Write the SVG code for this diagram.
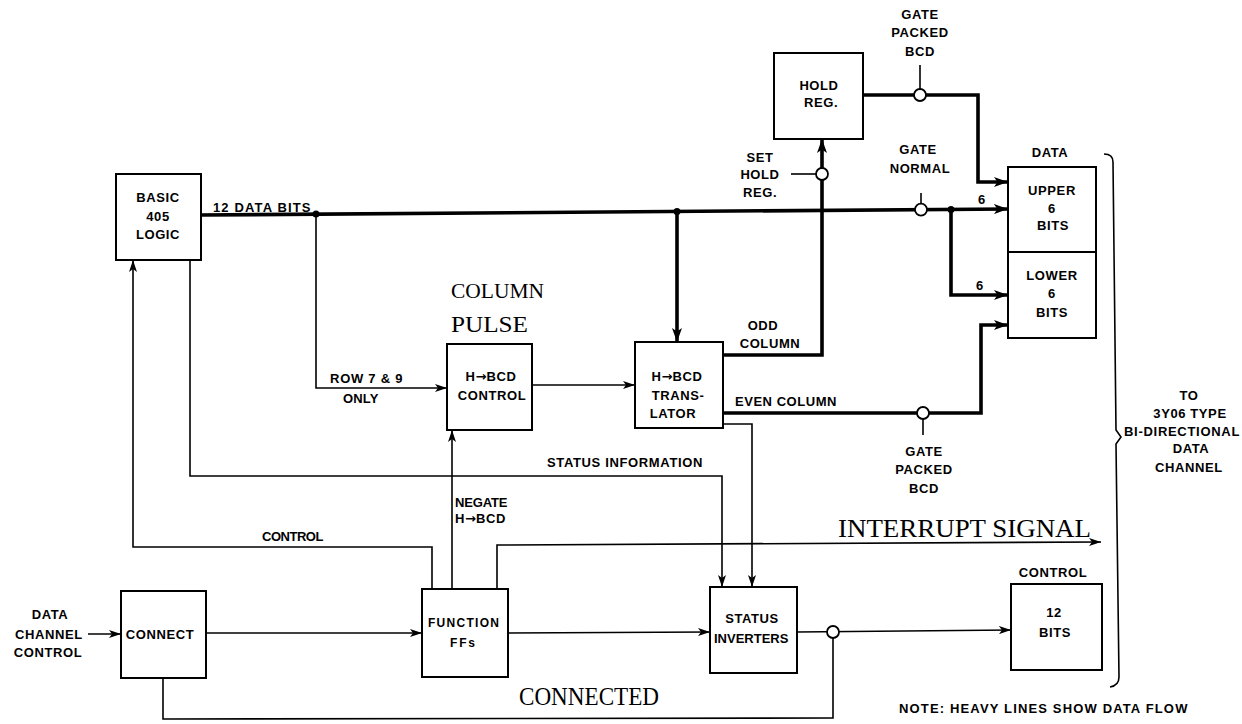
<svg xmlns="http://www.w3.org/2000/svg" width="1242" height="724" viewBox="0 0 1242 724">
<style>
.box{fill:#fff;stroke:#000;stroke-width:2}
.thin{fill:none;stroke:#000;stroke-width:1.6}
.heavy{fill:none;stroke:#000;stroke-width:3.6}
.gate{fill:#fff;stroke:#000;stroke-width:1.8}
.dot{fill:#000}
.l{font-family:"Liberation Sans",Arial,sans-serif;font-weight:bold;font-size:13px;fill:#000;letter-spacing:0.6px}
.c{text-anchor:middle}
.s{font-family:"Liberation Serif","Times New Roman",serif;font-weight:normal;fill:#000}
.f{font-family:"Liberation Sans",Arial,sans-serif;font-weight:bold;font-size:12px;fill:#000}
.ar{font-family:"DejaVu Sans",sans-serif;font-weight:bold;letter-spacing:0}
</style>
<defs>
<marker id="a" viewBox="0 0 12 8" refX="12" refY="4" markerWidth="12" markerHeight="8" markerUnits="userSpaceOnUse" orient="auto"><path d="M0,0 L12,4 L0,8 L3,4 z" fill="#000"/></marker>
<marker id="ah" viewBox="0 0 14 10" refX="14" refY="5" markerWidth="14" markerHeight="10" markerUnits="userSpaceOnUse" orient="auto"><path d="M0,0 L14,5 L0,10 L3.5,5 z" fill="#000"/></marker>
</defs>
<rect width="1242" height="724" fill="#fff"/>

<g id="connectors">
  <line class="heavy" x1="201" y1="215" x2="1008" y2="209" marker-end="url(#ah)"/>
  <polyline class="heavy" points="677,211.5 677,342" marker-end="url(#ah)"/>
  <polyline class="heavy" points="723,355 822,355 822,139" marker-end="url(#ah)"/>
  <polyline class="heavy" points="863,95 978,95 978,182 1008,182" marker-end="url(#ah)"/>
  <polyline class="heavy" points="951,209.4 951,295 1008,295" marker-end="url(#ah)"/>
  <polyline class="heavy" points="723,413 981,413 981,325 1008,325" marker-end="url(#ah)"/>
  <polyline class="thin" points="316,214 316,388 447,388" marker-end="url(#a)"/>
  <polyline class="thin" points="532,385 635,385" marker-end="url(#a)"/>
  <polyline class="thin" points="432,589 432,547 133,547 133,260" marker-end="url(#a)"/>
  <polyline class="thin" points="190,260 190,476 722,476 722,587" marker-end="url(#a)"/>
  <polyline class="thin" points="723,424 752,424 752,587" marker-end="url(#a)"/>
  <polyline class="thin" points="452,589 452,430" marker-end="url(#a)"/>
  <polyline class="thin" points="497,589 497,545 1101,542" marker-end="url(#a)"/>
  <polyline class="thin" points="88,634 121,634" marker-end="url(#a)"/>
  <polyline class="thin" points="206,633 422,633" marker-end="url(#a)"/>
  <polyline class="thin" points="508,633 710,632" marker-end="url(#a)"/>
  <polyline class="thin" points="797,632 1011,630" marker-end="url(#a)"/>
  <polyline class="thin" points="163,678 163,719 833,718 833,638"/>
  <line class="thin" x1="920" y1="65" x2="920" y2="89"/>
  <line class="thin" x1="921" y1="193" x2="921" y2="203.6"/>
  <line class="thin" x1="791" y1="174" x2="816" y2="174"/>
  <line class="thin" x1="923" y1="419" x2="923" y2="435"/>
  <circle class="gate" cx="920" cy="95" r="6"/>
  <circle class="gate" cx="822" cy="174" r="6"/>
  <circle class="gate" cx="921" cy="209.6" r="6"/>
  <circle class="gate" cx="923" cy="413" r="6"/>
  <circle class="gate" cx="833" cy="632" r="6"/>
  <circle class="dot" cx="316" cy="214" r="3.5"/>
  <circle class="dot" cx="677" cy="211.5" r="3.5"/>
  <circle class="dot" cx="951" cy="209.4" r="3.5"/>
  <path class="thin" d="M1104,154 C1110,154 1113,156 1113,162 L1116,430 L1121,437 L1116,444 L1119,677 C1119,683 1116,686 1110,687"/>
</g>

<g id="labels">
  <text class="l" x="213" y="212" textLength="98">12 DATA BITS</text>
  <text class="l" x="330" y="383" textLength="73">ROW 7 &amp; 9</text>
  <text class="l" x="343" y="403" textLength="36">ONLY</text>
  <text class="s" x="451" y="298" font-size="22" textLength="93" lengthAdjust="spacingAndGlyphs">COLUMN</text>
  <text class="s" x="451" y="332" font-size="23" textLength="77" lengthAdjust="spacingAndGlyphs">PULSE</text>
  <text class="l c" x="763" y="330">ODD</text>
  <text class="l c" x="770" y="348">COLUMN</text>
  <text class="l" x="735" y="406" textLength="102">EVEN COLUMN</text>
  <text class="l c" x="920" y="19">GATE</text>
  <text class="l c" x="920" y="37">PACKED</text>
  <text class="l c" x="920" y="56">BCD</text>
  <text class="l c" x="760" y="162">SET</text>
  <text class="l c" x="760" y="179">HOLD</text>
  <text class="l c" x="760" y="197">REG.</text>
  <text class="l c" x="918" y="154">GATE</text>
  <text class="l c" x="920" y="173">NORMAL</text>
  <text class="l c" x="1050" y="157">DATA</text>
  <text class="l c" x="982" y="204">6</text>
  <text class="l c" x="980" y="290">6</text>
  <text class="l c" x="924" y="456">GATE</text>
  <text class="l c" x="924" y="474">PACKED</text>
  <text class="l c" x="924" y="493">BCD</text>
  <text class="l" x="547" y="467" textLength="156">STATUS INFORMATION</text>
  <text class="l" x="455" y="507" textLength="53">NEGATE</text>
  <text class="l" x="455" y="523">H<tspan class="ar">→</tspan>BCD</text>
  <text class="l" x="262" y="541" textLength="62">CONTROL</text>
  <text class="s" x="838" y="537" font-size="25" textLength="253" lengthAdjust="spacingAndGlyphs">INTERRUPT SIGNAL</text>
  <text class="l c" x="50" y="619">DATA</text>
  <text class="l c" x="49" y="639">CHANNEL</text>
  <text class="l c" x="48" y="657">CONTROL</text>
  <text class="l c" x="1053" y="577">CONTROL</text>
  <text class="s" x="519" y="705" font-size="26" textLength="140" lengthAdjust="spacingAndGlyphs">CONNECTED</text>
  <text class="l" x="899" y="713" textLength="289">NOTE: HEAVY LINES SHOW DATA FLOW</text>
  <text class="l c" x="1189" y="400">TO</text>
  <text class="l c" x="1190" y="418">3Y06 TYPE</text>
  <text class="l" x="1124" y="436" textLength="116">BI-DIRECTIONAL</text>
  <text class="l c" x="1191" y="453">DATA</text>
  <text class="l c" x="1189" y="472">CHANNEL</text>
</g>

<g id="basic-405-logic">
  <rect class="box" x="116" y="174" width="85" height="86"/>
  <text class="l c" x="158" y="202">BASIC</text>
  <text class="l c" x="158" y="221">405</text>
  <text class="l c" x="158" y="239">LOGIC</text>
</g>
<g id="h-bcd-control">
  <rect class="box" x="447" y="344" width="85" height="86"/>
  <text class="l c" x="491" y="381">H<tspan class="ar">→</tspan>BCD</text>
  <text class="l c" x="492" y="400">CONTROL</text>
</g>
<g id="h-bcd-translator">
  <rect class="box" x="635" y="342" width="88" height="86"/>
  <text class="l c" x="677" y="381">H<tspan class="ar">→</tspan>BCD</text>
  <text class="l c" x="678" y="400">TRANS-</text>
  <text class="l c" x="673" y="418">LATOR</text>
</g>
<g id="hold-reg">
  <rect class="box" x="774" y="53" width="89" height="86"/>
  <text class="l c" x="819" y="90">HOLD</text>
  <text class="l c" x="821" y="107">REG.</text>
</g>
<g id="upper-6-bits">
  <rect class="box" x="1008" y="167" width="88" height="85"/>
  <text class="l c" x="1052" y="195">UPPER</text>
  <text class="l c" x="1052" y="213">6</text>
  <text class="l c" x="1053" y="230">BITS</text>
</g>
<g id="lower-6-bits">
  <rect class="box" x="1008" y="252" width="88" height="86"/>
  <text class="l c" x="1052" y="280">LOWER</text>
  <text class="l c" x="1052" y="298">6</text>
  <text class="l c" x="1052" y="317">BITS</text>
</g>
<g id="connect">
  <rect class="box" x="121" y="591" width="85" height="87"/>
  <text class="l c" x="160" y="639">CONNECT</text>
</g>
<g id="function-ffs">
  <rect class="box" x="422" y="589" width="86" height="88"/>
  <text class="f" x="428" y="627" textLength="71">FUNCTION</text>
  <text class="f" x="450" y="647" textLength="25">FFs</text>
</g>
<g id="status-inverters">
  <rect class="box" x="710" y="587" width="87" height="86"/>
  <text class="l c" x="752" y="623">STATUS</text>
  <text class="l" x="714" y="643" textLength="75">INVERTERS</text>
</g>
<g id="control-12-bits">
  <rect class="box" x="1011" y="584" width="91" height="86"/>
  <text class="l c" x="1054" y="617">12</text>
  <text class="l c" x="1055" y="637">BITS</text>
</g>
</svg>
